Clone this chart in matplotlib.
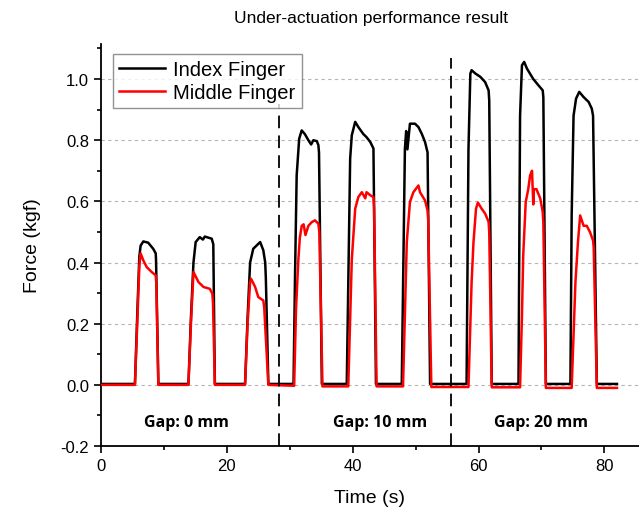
import matplotlib
matplotlib.use("Agg")
import matplotlib.pyplot as plt
from matplotlib.ticker import MultipleLocator

# ---- data ----
index_t = [0, 5.4, 5.8, 6.1, 6.3, 6.73, 7.5, 8.3, 8.7, 8.75, 9.12,
           13.9, 14.3, 14.7, 15.05, 15.7, 16.2, 16.5, 16.8, 17.6, 17.85, 18.1,
           22.9, 23.3, 23.7, 24.2, 25.3, 25.8, 26.1, 26.2, 26.6,
           30.6, 30.84, 31.1, 31.5, 31.9, 32.4, 32.96, 33.4, 33.75, 34.3, 34.55, 34.65, 35.1,
           39.06, 39.6, 39.86, 40.4, 40.9, 41.7, 42.2, 42.8, 43.3, 43.7,
           47.8, 48.3, 48.5, 48.7, 49.1, 49.9, 50.45, 51.0, 51.5, 51.9, 52.3,
           58.1, 58.4, 58.7, 58.9, 59.5, 60.3, 61.05, 61.6, 61.7, 62.1,
           66.35, 66.6, 66.9, 67.25, 67.7, 68.7, 69.5, 70.2, 70.3, 70.7,
           74.6, 74.8, 75.1, 75.5, 76.0, 76.7, 77.5, 78.0, 78.2, 78.8, 82.0]
index_f = [0.003, 0.003, 0.25, 0.42, 0.455, 0.469, 0.465, 0.445, 0.43, 0.41, 0.003,
           0.003, 0.22, 0.40, 0.467, 0.483, 0.475, 0.485, 0.483, 0.478, 0.46, 0.003,
           0.003, 0.22, 0.40, 0.445, 0.467, 0.44, 0.40, 0.35, 0.003,
           0.003, 0.358, 0.685, 0.805, 0.832, 0.82, 0.80, 0.786, 0.80, 0.797, 0.784, 0.76, 0.003,
           0.003, 0.74, 0.816, 0.86, 0.843, 0.82, 0.81, 0.794, 0.773, 0.003,
           0.003, 0.772, 0.83, 0.77, 0.854, 0.854, 0.843, 0.82, 0.794, 0.76, 0.003,
           0.003, 0.77, 1.018, 1.029, 1.018, 1.007, 0.99, 0.963, 0.93, 0.003,
           0.003, 0.88, 1.045, 1.056, 1.034, 1.0, 0.98, 0.963, 0.94, 0.003,
           0.003, 0.554, 0.88, 0.936, 0.958, 0.941, 0.925, 0.903, 0.88, 0.003, 0.003]

middle_t = [0, 5.4, 5.8, 6.1, 6.3, 6.73, 7.27, 8.06, 8.7, 8.8, 9.12,
            13.9, 14.3, 14.7, 15.5, 16.3, 17.3, 17.7, 17.8, 18.1,
            22.9, 23.3, 23.7, 23.85, 24.5, 25.0, 25.5, 25.8, 25.95, 26.6,
            30.7, 31.0, 31.37, 31.6, 31.9, 32.2, 32.5, 32.96, 33.5, 34.0, 34.55, 34.7, 35.2,
            39.3, 39.86, 40.4, 40.9, 41.45, 42.0, 42.2, 42.8, 43.3, 43.4, 43.8,
            48.0, 48.6, 49.1, 49.65, 50.45, 50.7, 51.5, 51.9, 52.0, 52.5,
            58.4, 58.9, 59.2, 59.6, 59.9, 60.5, 61.05, 61.6, 61.7, 62.1,
            66.6, 66.9, 67.1, 67.5, 67.9, 68.2, 68.5, 68.7, 68.8, 69.2, 69.8, 70.2, 70.3, 70.7,
            74.8, 75.4, 75.8, 76.15, 76.7, 77.2, 77.7, 78.2, 78.3, 78.8, 82.0]
middle_f = [0.0, 0.0, 0.22, 0.39, 0.43, 0.407, 0.385, 0.369, 0.358, 0.33, 0.0,
            0.0, 0.20, 0.369, 0.336, 0.32, 0.314, 0.298, 0.27, 0.0,
            0.0, 0.20, 0.336, 0.347, 0.32, 0.287, 0.28, 0.276, 0.25, 0.0,
            -0.003, 0.25, 0.41, 0.48, 0.52, 0.525, 0.49, 0.52, 0.532, 0.538, 0.527, 0.50, -0.005,
            -0.005, 0.41, 0.576, 0.614, 0.63, 0.61, 0.63, 0.62, 0.614, 0.58, -0.005,
            -0.005, 0.467, 0.598, 0.63, 0.652, 0.63, 0.603, 0.57, 0.54, -0.007,
            -0.007, 0.336, 0.467, 0.576, 0.596, 0.576, 0.56, 0.533, 0.50, -0.008,
            -0.008, 0.227, 0.423, 0.598, 0.64, 0.685, 0.70, 0.59, 0.64, 0.64, 0.61, 0.565, 0.53, -0.01,
            -0.01, 0.336, 0.467, 0.554, 0.52, 0.52, 0.50, 0.472, 0.45, -0.01, -0.01]

divider_x = [28.3, 55.6]
divider_top = [0.92, 1.07]
gap_labels = ["Gap: 0 mm", "Gap: 10 mm", "Gap: 20 mm"]
gap_label_x = [13.6, 44.4, 69.9]
gap_label_y = -0.12

xticks = [0, 20, 40, 60, 80]
yticks = [-0.2, 0.0, 0.2, 0.4, 0.6, 0.8, 1.0]

plt.rcParams['font.family'] = ['Liberation Sans', 'DejaVu Sans']

fig = plt.figure(figsize=(6.39, 5.10), dpi=100)
ax = fig.add_axes([0.158, 0.1235, 0.842, 0.7885])

ax.plot(index_t, index_f, color='black', lw=1.8, label='Index Finger', zorder=3)
ax.plot(middle_t, middle_f, color='#ff0000', lw=1.8, label='Middle Finger', zorder=4)

for xd, top in zip(divider_x, divider_top):
    ax.plot([xd, xd], [-0.2, top], color='black', lw=1.3, ls=(0, (7, 4)), zorder=5)

for lab, xl in zip(gap_labels, gap_label_x):
    ax.text(xl, gap_label_y, lab, ha='center', va='center', fontsize=11.5,
            fontweight='bold', family=['Open Sans', 'DejaVu Sans'])

ax.set_xlim(0, 85.5)
ax.set_ylim(-0.2, 1.115)
ax.set_xticks(xticks)
ax.set_yticks(yticks)
ax.set_yticklabels(['-0.2', '0.0', '0.2', '0.4', '0.6', '0.8', '1.0'])
ax.xaxis.set_minor_locator(MultipleLocator(10))
ax.yaxis.set_minor_locator(MultipleLocator(0.1))
ax.tick_params(which='major', direction='out', length=5, width=1.2, labelsize=12, colors='black')
ax.tick_params(which='minor', direction='out', length=3, width=1.2)

for s in ['top', 'right']:
    ax.spines[s].set_visible(False)
for s in ['left', 'bottom']:
    ax.spines[s].set_linewidth(1.3)

for yv in [0.0, 0.2, 0.4, 0.6, 0.8, 1.0]:
    ax.axhline(yv, color='#b5b5b5', lw=0.8, ls=(0, (3, 3)), zorder=1)

ax.set_xlabel('Time (s)', fontsize=14, labelpad=12)
ax.set_ylabel('Force (kgf)', fontsize=14, labelpad=14)
fig.text(0.58, 0.963, 'Under-actuation performance result', ha='center', va='center', fontsize=12.5)

leg = ax.legend(loc='upper left', bbox_to_anchor=(0.022, 0.975), fontsize=14.5,
                frameon=True, fancybox=False, edgecolor='#777777', handlelength=2.3,
                borderpad=0.3, labelspacing=0.2, handletextpad=0.4, borderaxespad=0)
leg.get_frame().set_linewidth(1.0)

fig.savefig('out.png', dpi=100)
